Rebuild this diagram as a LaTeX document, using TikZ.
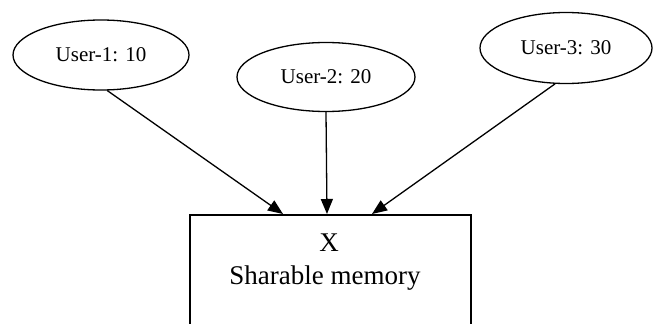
\documentclass[tikz,border=0pt]{standalone}
\usepackage{fontspec}
\setmainfont{Liberation Serif}
\usetikzlibrary{shapes.geometric,arrows.meta}
\begin{document}
\begin{tikzpicture}[x=1pt,y=-1pt,
  user/.style={draw, ellipse, line width=1.3pt, inner sep=0pt,
    font=\fontsize{21}{24}\selectfont},
  membox/.style={draw, line width=1.6pt, anchor=north west, inner sep=0pt},
  link/.style={line width=1.3pt, -{Triangle[length=15pt,width=12pt]}},
  lbl/.style={font=\fontsize{27}{30}\selectfont, inner sep=0pt}]
  \useasboundingbox (0,0) rectangle (657,324);
  \clip (0,0) rectangle (657,324);
  \fill[white] (0,0) rectangle (657,324);

  % users
  \node[user, minimum width=176pt, minimum height=70pt] (u1) at (101,55) {User-1: 10};
  \node[user, minimum width=178pt, minimum height=69pt] (u2) at (326,77) {User-2: 20};
  \node[user, minimum width=172pt, minimum height=71pt] (u3) at (566,48) {User-3: 30};

  % shared memory block (runs past the lower edge)
  \node[membox, minimum width=281pt, minimum height=140pt] (mem) at (189,214) {};
  \node[lbl] (x) at (329,243) {X};
  \node[lbl] (sm) at (325,278) {Sharable memory};

  % arrow tips on the block's top edge
  \coordinate (t1) at (283,214);
  \coordinate (t2) at (327,214);
  \coordinate (t3) at (372,214);

  \draw[link] (u1.-80) -- (t1);
  \draw[link] (u2.south) -- (t2);
  \draw[link] (u3.-107) -- (t3);
\end{tikzpicture}
\end{document}
